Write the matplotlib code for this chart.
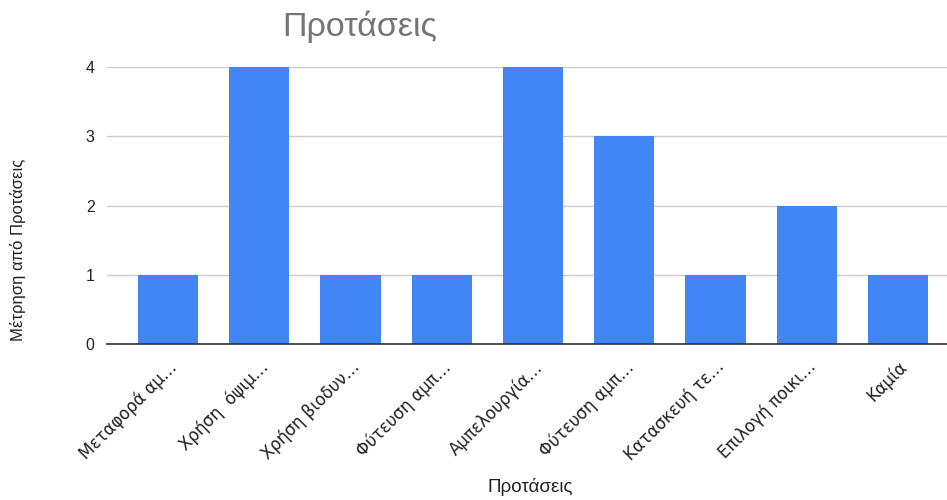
import matplotlib
import matplotlib.pyplot as plt
matplotlib.use('Agg')

categories = ['Μεταφορά αμ…', 'Χρήση  όψιμ…', 'Χρήση βιοδυν…', 'Φύτευση αμπ…',
              'Αμπελουργία…', 'Φύτευση αμπ…', 'Κατασκευή τε…', 'Επιλογή ποικι…',
              'Καμία']
counts = [1, 4, 1, 1, 4, 3, 1, 2, 1]
y_ticks = [0, 1, 2, 3, 4]

plt.rcParams['font.family'] = ['Liberation Sans', 'DejaVu Sans']


def main():
    fig = plt.figure(figsize=(9.47, 5.0), dpi=100)
    ax = fig.add_axes([107 / 947, 1 - 344 / 500, 840 / 947, 277 / 500])
    x = list(range(len(categories)))
    ax.bar(x, counts, width=0.66, color='#4285F4', zorder=3)
    ax.set_xlim(-0.668, 8.537)
    ax.set_ylim(0, 4)
    ax.set_yticks(y_ticks)
    ax.yaxis.grid(True, color='#cccccc', linewidth=1, zorder=0)
    for s in ['top', 'right', 'left']:
        ax.spines[s].set_visible(False)
    ax.spines['bottom'].set_color('#333333')
    ax.spines['bottom'].set_linewidth(1.2)
    ax.spines['bottom'].set_zorder(4)
    ax.tick_params(axis='y', length=0, pad=9, labelsize=11.5,
                   labelcolor='#222222')
    ax.tick_params(axis='x', length=0, pad=10)
    ax.set_xticks(x)
    ax.set_xticklabels(categories, rotation=45, ha='right', va='top',
                       rotation_mode='anchor', fontsize=12,
                       family=['DejaVu Sans'], color='#222222')
    fig.text(360 / 947, 1 - 27 / 500, 'Προτάσεις', ha='center', va='center',
             fontsize=24.5, color='#757575')
    fig.text(18 / 947, 1 - 250 / 500, 'Μέτρηση από Προτάσεις',
             rotation=90, ha='center', va='center', fontsize=12,
             color='#222222')
    fig.text(530 / 947, 1 - 487 / 500, 'Προτάσεις', ha='center',
             va='center', fontsize=13.5, color='#222222')
    fig.savefig('out.png', dpi=100)


if __name__ == '__main__':
    main()
